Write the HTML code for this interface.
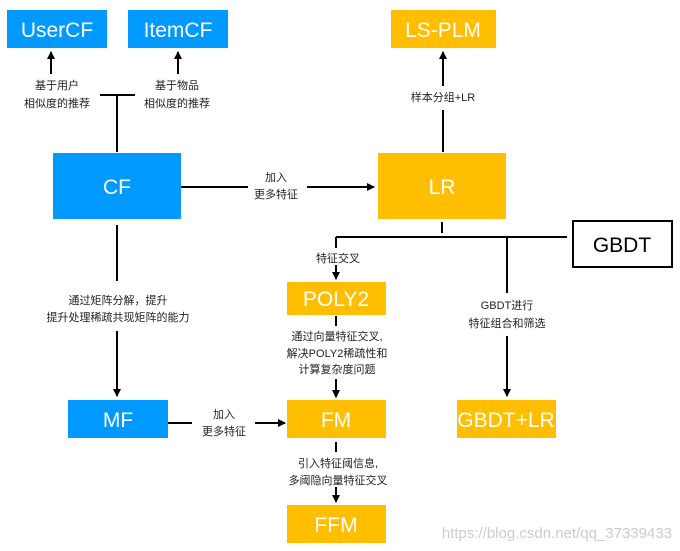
<!DOCTYPE html>
<html><head><meta charset="utf-8"><style>
html,body{margin:0;padding:0;background:#fff;}
svg{display:block;}
text{font-family:"Liberation Sans","Noto Sans CJK SC",sans-serif;}
.b{fill:#fff;font-size:21px;text-anchor:middle;}
.s{fill:#222;font-size:11px;text-anchor:middle;}
.l{stroke:#000;stroke-width:2;fill:none;}
</style></head><body>
<svg width="680" height="551" viewBox="0 0 680 551" xmlns="http://www.w3.org/2000/svg">
<defs><marker id="a" markerWidth="8" markerHeight="8" refX="7" refY="4" orient="auto" markerUnits="userSpaceOnUse"><path d="M0,0 L8,4 L0,8 z" fill="#000"/></marker></defs>
<!-- boxes -->
<rect x="7" y="10" width="100" height="38" fill="#0099FF"/><text class="b" x="57" y="37">UserCF</text>
<rect x="128" y="10" width="100" height="38" fill="#0099FF"/><text class="b" x="178" y="37">ItemCF</text>
<rect x="53" y="153" width="128" height="66" fill="#0099FF"/><text class="b" x="117" y="194">CF</text>
<rect x="391" y="10" width="105" height="38" fill="#FFBF00"/><text class="b" x="443" y="37">LS-PLM</text>
<rect x="378" y="153" width="128" height="66" fill="#FFBF00"/><text class="b" x="442" y="194">LR</text>
<rect x="573" y="221" width="99" height="46" fill="#fff" stroke="#000" stroke-width="2"/><text x="622" y="252" font-size="21" text-anchor="middle" fill="#000">GBDT</text>
<rect x="287" y="282" width="99" height="33" fill="#FFBF00"/><text class="b" x="336" y="306">POLY2</text>
<rect x="68" y="400" width="100" height="38" fill="#0099FF"/><text class="b" x="118" y="427">MF</text>
<rect x="287" y="400" width="99" height="38" fill="#FFBF00"/><text class="b" x="336" y="427">FM</text>
<rect x="457" y="400" width="99" height="38" fill="#FFBF00"/><text class="b" x="506" y="427">GBDT+LR</text>
<rect x="287" y="505" width="99" height="38" fill="#FFBF00"/><text class="b" x="336" y="532">FFM</text>
<!-- CF to User/Item -->
<path class="l" d="M51,74 V52" marker-end="url(#a)"/>
<path class="l" d="M178,74 V52" marker-end="url(#a)"/>
<text class="s" x="57" y="89">基于用户</text><text class="s" x="57" y="107">相似度的推荐</text>
<text class="s" x="177" y="89">基于物品</text><text class="s" x="177" y="107">相似度的推荐</text>
<path class="l" d="M100,95 H135 M117,95 V152"/>
<!-- CF to LR -->
<path class="l" d="M181,187 H248"/>
<path class="l" d="M307,187 H374" marker-end="url(#a)"/>
<text class="s" x="276" y="181">加入</text><text class="s" x="276" y="198">更多特征</text>
<!-- LR to LS-PLM -->
<path class="l" d="M443,152 V110"/>
<path class="l" d="M443,86 V52" marker-end="url(#a)"/>
<text class="s" x="443" y="101">样本分组+LR</text>
<!-- LR bottom -->
<path class="l" d="M442,222 V233 M336,237 H567 M507,237 V293"/>
<path class="l" d="M336,237 V248"/>
<path class="l" d="M336,265 V279" marker-end="url(#a)"/>
<text class="s" x="338" y="262">特征交叉</text>
<text class="s" x="507" y="309">GBDT进行</text><text class="s" x="507" y="327">特征组合和筛选</text>
<path class="l" d="M507,336 V396" marker-end="url(#a)"/>
<!-- POLY2 to FM -->
<path class="l" d="M336,316 V326"/>
<text class="s" x="337" y="340">通过向量特征交叉,</text>
<text class="s" x="337" y="357">解决POLY2稀疏性和</text>
<text class="s" x="337" y="373">计算复杂度问题</text>
<path class="l" d="M336,379 V397" marker-end="url(#a)"/>
<!-- CF to MF -->
<path class="l" d="M117,225 V281"/>
<text class="s" x="118" y="304">通过矩阵分解，提升</text>
<text class="s" x="118" y="321">提升处理稀疏共现矩阵的能力</text>
<path class="l" d="M117,331 V396" marker-end="url(#a)"/>
<!-- MF to FM -->
<path class="l" d="M168,423 H192"/>
<path class="l" d="M255,423 H285" marker-end="url(#a)"/>
<text class="s" x="224" y="418">加入</text><text class="s" x="224" y="435">更多特征</text>
<!-- FM to FFM -->
<path class="l" d="M336,442 V452"/>
<text class="s" x="338" y="467">引入特征阈信息,</text>
<text class="s" x="338" y="484">多阈隐向量特征交叉</text>
<path class="l" d="M336,487 V502" marker-end="url(#a)"/>
<text x="672" y="538" font-size="15" fill="#ccc" text-anchor="end">https://blog.csdn.net/qq_37339433</text>
</svg>
</body></html>
